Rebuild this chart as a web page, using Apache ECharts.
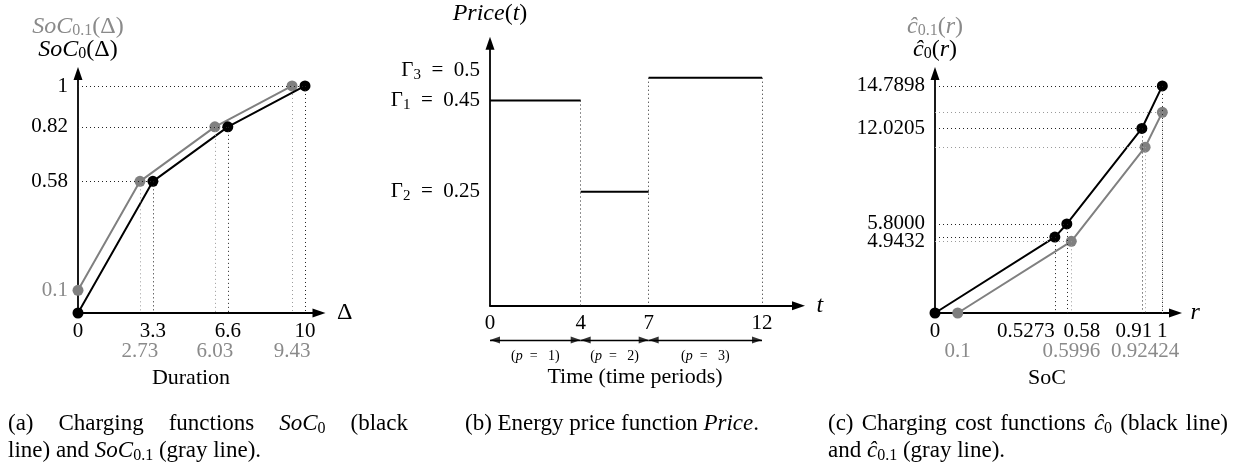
<!DOCTYPE html>
<html><head><meta charset="utf-8">
<script src="https://cdn.jsdelivr.net/npm/echarts@6/dist/echarts.min.js"></script>
<style>html,body{margin:0;padding:0;background:#fff}#c{width:1249px;height:468px}</style>
</head><body><div id="c"></div>
<script>
// ---------- DATA ----------
// Panel (a): charging functions
const aDuration0 = [0, 3.3, 6.6, 10];
const aSoC0 = [0, 0.58, 0.82, 1];
const aDuration01 = [0, 2.73, 6.03, 9.43];
const aSoC01 = [0.1, 0.58, 0.82, 1];
const aXTicks = [0, 3.3, 6.6, 10];
const aXTicksGray = [2.73, 6.03, 9.43];
const aYTicks = [0.58, 0.82, 1];
const aYTicksGray = [0.1];
// Panel (b): energy price function
const bPeriodStart = [0, 4, 7];
const bPeriodEnd = [4, 7, 12];
const bPrice = [0.45, 0.25, 0.5];
const bGammaIndex = [1, 2, 3];
const bXTicks = [0, 4, 7, 12];
// Panel (c): charging cost functions
const cSoC0 = [0, 0.5273, 0.58, 0.91, 1];
const cCost0 = [0, 4.9432, 5.8, 12.0205, 14.7898];
const cSoC01 = [0.1, 0.5996, 0.92424, 1];
const cCost01 = [0, 4.67, 10.8, 13.07];
const cXTicks = [0, 0.5273, 0.58, 0.91, 1];
const cXTicksGray = [0.1, 0.5996, 0.92424];
const cYTicks = [4.9432, 5.8, 12.0205, 14.7898];
const cYTickLabels = ['4.9432', '5.8000', '12.0205', '14.7898'];

// ---------- STYLE / LAYOUT ----------
const FONT = "'Liberation Serif', 'DejaVu Serif', serif";
const FS = 21, SUB = 15, NFS = 24;
const BLACK = '#000', GRAY = '#808080', GRAYTXT = '#8a8a8a', GRAYDOT = '#9a9a9a';

function tok(color, italic, size, lh, pad) {
  const o = {fontFamily: FONT, fontSize: size, color: color, fill: color, lineHeight: lh};
  if (italic) o.fontStyle = 'italic';
  if (pad) o.padding = [pad, 0, 0, 0];
  return o;
}
// label nudges (px) for crowded tick labels
const bLabelShiftUp = {0.5: 14};
const cLabelShiftDown = {4.9432: 8};
const cXLabelNudge = {0.5273: -29, 0.58: 15, 0.91: -8};

const RICH = {
  m: tok(BLACK, false, FS, 24), mi: tok(BLACK, true, FS, 24), s: tok(BLACK, false, SUB, 15, 9),
  g: tok(GRAYTXT, false, FS, 24), gi: tok(GRAYTXT, true, FS, 24), gs: tok(GRAYTXT, false, SUB, 15, 9),
  M: tok(BLACK, false, NFS, 23), MI: tok(BLACK, true, NFS, 23), S: tok(BLACK, false, 16, 15, 8),
  G: tok(GRAYTXT, false, NFS, 23), GI: tok(GRAYTXT, true, NFS, 23), GS: tok(GRAYTXT, false, 16, 15, 8),
  up: {fontSize: 1, lineHeight: 14},
  dn: {fontFamily: FONT, fontSize: FS, color: BLACK, lineHeight: 24, padding: [8, 0, 0, 0]},
  n: {fontFamily: FONT, fontSize: 14, color: BLACK}, ni: {fontFamily: FONT, fontSize: 14, color: BLACK, fontStyle: 'italic'}
};
Object.keys(cXLabelNudge).forEach((k, i) => {
  const d = cXLabelNudge[k];
  RICH['k' + i] = {fontFamily: FONT, fontSize: FS, color: BLACK,
    padding: d < 0 ? [0, -2 * d, 0, 0] : [0, 0, 0, 2 * d]};
});

const P = {
  a: {left: 78, top: 73.5, width: 241, height: 239.5, xmax: 10.617, ymax: 1.055},
  b: {left: 490, top: 43.2, width: 308.5, height: 262.5, xmax: 13.61, ymax: 0.5757},
  c: {left: 935, top: 73.5, width: 240.5, height: 239.5, xmax: 1.058, ymax: 15.60},
  arrows: {top: 330, height: 20},
  capW: 400, capX: [8, 418, 828], capY: [424, 451], capBCenter: 612
};

const axisLineStyle = {show: true, onZero: false, symbol: ['none', 'triangle'], symbolSize: [9, 13],
  lineStyle: {color: BLACK, width: 1.8}};
const noLine = {show: false, onZero: false};

function xAxisMain(grid, max, ticks, name, nameGap, margin, formatter) {
  return {type: 'value', gridIndex: grid, min: 0, max: max, position: 'bottom',
    axisLine: axisLineStyle, axisTick: {show: false}, splitLine: {show: false},
    axisLabel: {customValues: ticks, margin: margin, fontFamily: FONT, fontSize: FS, color: BLACK,
      hideOverlap: false, rich: RICH, formatter: formatter},
    name: name, nameLocation: 'end', nameGap: nameGap,
    nameTextStyle: {fontFamily: FONT, fontSize: NFS, color: BLACK, rich: RICH}};
}
function xAxisGray(grid, max, ticks) {
  return {type: 'value', gridIndex: grid, min: 0, max: max, position: 'bottom', offset: 20,
    axisLine: noLine, axisTick: {show: false}, splitLine: {show: false},
    axisLabel: {customValues: ticks, margin: 8, fontFamily: FONT, fontSize: FS, color: GRAYTXT, hideOverlap: false}};
}
function yAxisMain(grid, max, ticks, formatter, colorFn, name, nameGap) {
  return {type: 'value', gridIndex: grid, min: 0, max: max, position: 'left',
    axisLine: axisLineStyle, axisTick: {show: false}, splitLine: {show: false},
    axisLabel: {customValues: ticks, margin: 10, fontFamily: FONT, fontSize: FS, color: colorFn || BLACK,
      formatter: formatter, rich: RICH, hideOverlap: false},
    name: name, nameLocation: 'end', nameGap: nameGap,
    nameTextStyle: {fontFamily: FONT, fontSize: NFS, color: BLACK, align: 'center', rich: RICH}};
}

function guides(xs, ys, horiz, vert, color) {
  const data = [];
  for (let i = 0; i < xs.length; i++) {
    if (ys[i] === 0) continue;
    if (horiz && xs[i] !== 0) data.push([{coord: [0, ys[i]]}, {coord: [xs[i], ys[i]]}]);
    if (vert && xs[i] !== 0) data.push([{coord: [xs[i], ys[i]]}, {coord: [xs[i], 0]}]);
  }
  return {silent: true, symbol: ['none', 'none'], label: {show: false}, emphasis: {disabled: true},
    animation: false, lineStyle: {type: [1, 3], width: 1, color: color}, data: data};
}
function curve(xi, yi, xs, ys, color, ml, z) {
  return {type: 'line', xAxisIndex: xi, yAxisIndex: yi, data: xs.map((x, i) => [x, ys[i]]),
    symbol: 'circle', symbolSize: 11, showSymbol: true, z: z,
    lineStyle: {color: color, width: 2}, itemStyle: {color: color}, markLine: ml, animation: false};
}

// panel (b) step segments and boundary guides
const bSeries = bPeriodStart.map((s, i) => ({type: 'line', xAxisIndex: 2, yAxisIndex: 1,
  data: [[s, bPrice[i]], [bPeriodEnd[i], bPrice[i]]], symbol: 'none', lineStyle: {color: BLACK, width: 2}, z: 3}));
bSeries[0].markLine = {silent: true, symbol: ['none', 'none'], label: {show: false}, emphasis: {disabled: true},
  lineStyle: {type: [1, 3], width: 1, color: '#222'},
  data: bPeriodEnd.map((e, i) => {
    const top = Math.max(bPrice[i], i + 1 < bPrice.length ? bPrice[i + 1] : 0);
    return [{coord: [e, top]}, {coord: [e, 0]}];
  })};

// period double arrows (lines + labels via markLine, heads via scatter)
const ARROW_H = 10;
const periodLines = {type: 'line', xAxisIndex: 5, yAxisIndex: 3, data: bPeriodStart.map(s => [s, 0.5]),
  symbol: 'none', lineStyle: {opacity: 0}, silent: true,
  markLine: {silent: true, symbol: ['none', 'none'], emphasis: {disabled: true},
    lineStyle: {type: 'solid', width: 1.3, color: BLACK},
    label: {show: true, position: 'insideMiddleBottom', distance: 9, rich: RICH,
      formatter: (p) => '{n|(}{ni|p}{n|\u2002= \u2002' + (p.dataIndex + 1) + ')}'},
    data: bPeriodStart.map((s, i) => [{coord: [s, 0.5]}, {coord: [bPeriodEnd[i], 0.5]}])}};
const periodHeads = {type: 'scatter', xAxisIndex: 5, yAxisIndex: 3, silent: true, z: 5,
  symbol: 'triangle', symbolSize: [7, ARROW_H], itemStyle: {color: BLACK},
  data: bPeriodStart.flatMap((s, i) => [
    {value: [s, 0.5], symbolRotate: 90, symbolOffset: [ARROW_H / 2, 0]},
    {value: [bPeriodEnd[i], 0.5], symbolRotate: -90, symbolOffset: [-ARROW_H / 2, 0]}
  ])};

// ---------- captions (justified first lines) ----------
const CFS = 23;
const CRICH = {
  t: {fontFamily: FONT, fontSize: CFS, fill: BLACK, lineHeight: 27},
  ti: {fontFamily: FONT, fontSize: CFS, fill: BLACK, fontStyle: 'italic', lineHeight: 27},
  ts: {fontFamily: FONT, fontSize: 16, fill: BLACK, lineHeight: 16, padding: [10, 0, 0, 0]}
};
const mctx = document.createElement('canvas').getContext('2d');
function segWidth(seg) {
  const st = CRICH[seg[0]];
  mctx.font = (st.fontStyle ? 'italic ' : '') + st.fontSize + 'px ' + FONT;
  return mctx.measureText(seg[1]).width;
}
function justified(words, width, key) {
  const total = words.reduce((a, w) => a + w.reduce((b, s) => b + segWidth(s), 0), 0);
  const gap = Math.max(4, (width - total) / (words.length - 1));
  const rich = Object.assign({}, CRICH);
  rich[key] = {fontFamily: FONT, fontSize: CFS, width: gap, lineHeight: 27};
  const text = words.map(w => w.map(s => '{' + s[0] + '|' + s[1] + '}').join('')).join('{' + key + '| }');
  return {text: text, rich: rich};
}
const capA1 = justified([[['t', '(a)']], [['t', 'Charging']], [['t', 'functions']], [['ti', 'SoC'], ['ts', '0']], [['t', '(black']]], P.capW, 'ga');
const capC1 = justified([[['t', '(c)']], [['t', 'Charging']], [['t', 'cost']], [['t', 'functions']], [['ti', 'ĉ'], ['ts', '0']], [['t', '(black']], [['t', 'line)']]], P.capW, 'gc');

const cYMainTicks = cYTicks.filter(v => !cLabelShiftDown[v]);
const cYShiftTicks = cYTicks.filter(v => cLabelShiftDown[v]);

const option = {
  animation: false,
  backgroundColor: '#fff',
  grid: [
    {left: P.a.left, top: P.a.top, width: P.a.width, height: P.a.height, outerBoundsMode: 'none'},
    {left: P.b.left, top: P.b.top, width: P.b.width, height: P.b.height, outerBoundsMode: 'none'},
    {left: P.c.left, top: P.c.top, width: P.c.width, height: P.c.height, outerBoundsMode: 'none'},
    {left: P.b.left, top: P.arrows.top, width: P.b.width, height: P.arrows.height, outerBoundsMode: 'none'}
  ],
  xAxis: [
    xAxisMain(0, P.a.xmax, aXTicks, '{M|Δ}', 18, 8),
    xAxisGray(0, P.a.xmax, aXTicksGray),
    xAxisMain(1, P.b.xmax, bXTicks, '{MI|t}', 18, 7),
    xAxisMain(2, P.c.xmax, cXTicks, '{MI|r}', 15, 8, (v) => {
      const keys = Object.keys(cXLabelNudge);
      const k = keys.indexOf(String(v));
      return k >= 0 ? '{k' + k + '|' + v + '}' : String(v);
    }),
    xAxisGray(2, P.c.xmax, cXTicksGray),
    {type: 'value', gridIndex: 3, min: 0, max: P.b.xmax, show: false}
  ],
  yAxis: [
    yAxisMain(0, P.a.ymax, aYTicks.concat(aYTicksGray), null,
      (v) => (aYTicksGray.indexOf(parseFloat(v)) >= 0 ? GRAYTXT : BLACK),
      '{GI|SoC}{GS|0.1}{G|(Δ)}\n{MI|SoC}{S|0}{M|(Δ)}', 12),
    yAxisMain(1, P.b.ymax, bPrice, (v) => {
      const i = bPrice.indexOf(v);
      let s = '{m|Γ}{s|' + bGammaIndex[i] + '}{m|\u2002=\u2002' + v + '}';
      if (bLabelShiftUp[v]) s += '\n{up| }';
      return s;
    }, null, '{MI|Price}{M|(}{MI|t}{M|)}', 18),
    yAxisMain(2, P.c.ymax, cYMainTicks, (v) => '{m|' + cYTickLabels[cYTicks.indexOf(v)] + '}',
      null, '{GI|ĉ}{GS|0.1}{G|(}{GI|r}{G|)}\n{MI|ĉ}{S|0}{M|(}{MI|r}{M|)}', 12),
    {type: 'value', gridIndex: 3, min: 0, max: 1, show: false},
    {type: 'value', gridIndex: 2, min: 0, max: P.c.ymax, position: 'left', offset: 0,
      axisLine: noLine, axisTick: {show: false}, splitLine: {show: false},
      axisLabel: {customValues: cYShiftTicks, margin: 10, fontFamily: FONT, fontSize: FS, color: BLACK, hideOverlap: false,
        rich: RICH, formatter: (v) => '{dn|' + cYTickLabels[cYTicks.indexOf(v)] + '}'}}
  ],
  series: [
    curve(0, 0, aDuration01, aSoC01, GRAY, guides(aDuration01, aSoC01, false, true, GRAYDOT), 3),
    curve(0, 0, aDuration0, aSoC0, BLACK, guides(aDuration0, aSoC0, true, true, '#222'), 4),
    ...bSeries,
    curve(3, 2, cSoC01, cCost01, GRAY, guides(cSoC01, cCost01, true, true, GRAYDOT), 3),
    curve(3, 2, cSoC0, cCost0, BLACK, guides(cSoC0, cCost0, true, true, '#222'), 4),
    periodLines,
    periodHeads
  ],
  graphic: [
    {type: 'text', x: 191, y: 378, style: {text: 'Duration', font: '22px ' + FONT, fill: BLACK, align: 'center', verticalAlign: 'middle'}},
    {type: 'text', x: 635, y: 377, style: {text: 'Time (time periods)', font: '22px ' + FONT, fill: BLACK, align: 'center', verticalAlign: 'middle'}},
    {type: 'text', x: 1047, y: 378, style: {text: 'SoC', font: '22px ' + FONT, fill: BLACK, align: 'center', verticalAlign: 'middle'}},
    {type: 'text', x: P.capX[0], y: P.capY[0], style: {text: capA1.text, rich: capA1.rich, align: 'left', verticalAlign: 'middle'}},
    {type: 'text', x: P.capX[0], y: P.capY[1], style: {text: '{t|line) and }{ti|SoC}{ts|0.1}{t| (gray line).}', rich: CRICH, align: 'left', verticalAlign: 'middle'}},
    {type: 'text', x: P.capBCenter, y: P.capY[0], style: {text: '{t|(b) Energy price function }{ti|Price}{t|.}', rich: CRICH, align: 'center', verticalAlign: 'middle'}},
    {type: 'text', x: P.capX[2], y: P.capY[0], style: {text: capC1.text, rich: capC1.rich, align: 'left', verticalAlign: 'middle'}},
    {type: 'text', x: P.capX[2], y: P.capY[1], style: {text: '{t|and }{ti|ĉ}{ts|0.1}{t| (gray line).}', rich: CRICH, align: 'left', verticalAlign: 'middle'}}
  ]
};
const chart = echarts.init(document.getElementById('c'), null, {renderer: 'canvas'});
chart.setOption(option);
</script>
</body></html>
